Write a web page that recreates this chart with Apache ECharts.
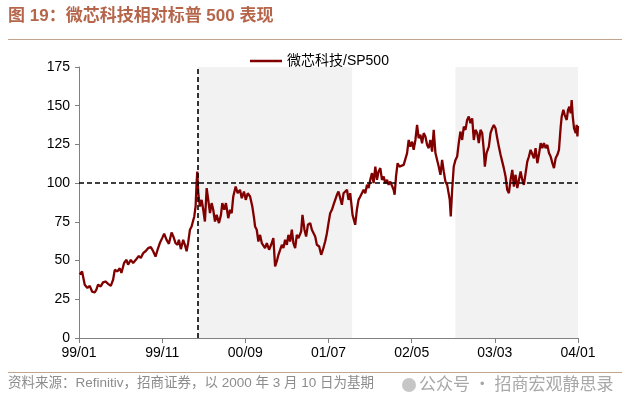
<!DOCTYPE html>
<html>
<head>
<meta charset="utf-8">
<script src="https://cdn.jsdelivr.net/npm/echarts@6/dist/echarts.min.js"></script>
<style>
html,body{margin:0;padding:0;background:#fff;}
#c{width:630px;height:411px;}
</style>
</head>
<body>
<div id="c"></div>
<script>
// months since 1999/01
const t = [
0.08,0.37,0.69,1.01,1.29,1.57,1.89,2.09,2.29,2.61,2.89,3.18,3.5,3.82,4.1,4.3,4.62,4.9,5.1,5.42,5.71,5.9,6.23,6.51,6.91,7.19,7.43,7.71,8,8.31,8.64,8.92,9.2,9.45,9.72,10,10.24,10.53,10.81,11.13,11.37,11.61,11.86,12.01,12.25,12.53,12.73,12.94,13.13,13.34,13.54,13.73,13.86,14.02,14.14,14.22,
14.34,14.54,14.75,14.94,15.14,15.35,15.54,15.75,15.95,16.14,16.35,16.55,16.83,17.07,17.23,17.47,17.67,17.95,18.16,18.36,18.55,18.84,19.08,19.36,19.57,19.84,20.05,20.29,20.57,20.84,21.05,21.17,21.37,21.57,21.77,21.98,22.17,22.37,22.58,22.86,23.1,23.37,23.58,23.78,23.98,24.18,24.39,24.58,24.78,24.99,25.18,25.39,25.59,25.78,25.99,26.19,26.39,26.71,26.87,27.11,27.31,27.52,27.8,28,28.19,28.4,28.6,28.88,29.12,29.33,29.6,29.81,30,30.2,30.41,30.6,30.81,31.01,31.2,31.41,31.61,31.81,32.01,32.22,
32.41,32.61,32.89,33.21,33.41,33.61,33.82,34.02,34.22,34.42,34.63,34.82,35.02,35.23,35.42,35.63,35.83,36.02,36.23,36.43,36.63,36.83,37.04,37.23,37.43,37.64,37.83,37.95,38.12,38.31,38.52,38.76,39.04,39.24,39.45,39.64,39.84,40.05,40.24,40.45,40.65,40.84,41.05,41.25,41.45,41.65,41.86,42.05,42.25,42.46,42.65,42.86,43.06,43.25,43.46,43.66,43.86,44.06,44.27,44.46,44.58,44.7,44.87,45.06,45.27,45.47,45.66,45.86,
46.07,46.27,46.47,46.67,46.87,47.07,47.28,47.47,47.67,47.88,48.07,48.28,48.48,48.67,48.8,49,49.28,49.48,49.69,49.88,50.08,50.29,50.48,50.69,50.89,51.08,51.29,51.49,51.69,51.89,52.1,52.29,52.49,52.7,52.89,53.1,53.3,53.49,53.7,53.9,54.1,54.3,54.51,54.7,54.9,55.11,55.3,55.51,55.71,55.9,56.11,56.31,56.51,56.71,56.92,57.11,57.31,57.52,57.71,57.92,58.04,58.24,58.4,58.64,58.8,58.96,59.12,59.24,59.37,59.52,59.73,59.84,59.93,60
];
// 微芯科技 / SP500 relative, base 2000-03-10 = 100
const ratio = [
41,43,34.4,32.3,33.7,30,29.4,31.2,34.4,33.3,35.9,36.5,35,33.7,37.6,44,43,45,42,48.4,50.5,47.3,50.5,48.4,51,53,51.6,54.8,56,58,58.7,56,52.6,57,61.3,64.5,67.3,63.4,60.8,68.1,65.2,61.3,60.2,63.4,57.4,63.4,60.2,56,61.7,69.9,72,71,78.5,85,100,107.5,
93.5,84.9,89.2,82.8,75.2,96.8,89.2,80.6,87.1,82.8,75.2,79.5,74.2,79.5,87.1,82.8,87.1,77.4,82.8,80.6,91.4,97.8,93.5,95.7,90.3,94.6,89.2,93.5,91.4,84.9,77.4,72,69.9,62.3,66.6,61.3,62.3,58.1,61.3,57,60.2,64.5,46.2,49.4,53.7,52.6,60.2,58.1,63.4,60.2,66.6,62.3,69.9,61.3,58.1,66.6,64.5,68.8,79.5,69.9,65.5,73.1,74.2,69.9,71,65.5,60.2,59.1,53.7,57,62.3,67.7,74.2,80.6,82.8,86,87.1,92.5,94.6,90.3,86,93.5,94.6,95.7,
89.2,93.5,79.5,73.1,82.8,89.2,91.4,90.3,95.7,93.5,98.9,96.8,102.1,106.5,100,110.7,102.1,107.5,109.7,102.1,104.3,100,102.1,98.9,101,102.1,95.7,92.5,104.3,112.9,110.7,111.8,111.8,112.9,119.4,127.9,123.6,126.8,121.5,127.9,137.6,129,131.2,125.8,132.3,130.1,124.7,122.6,127.9,120.4,134.4,119.4,115,110.7,105.4,115,107.5,101,98.9,97.8,89.2,78.5,95.7,110.7,115,117.2,125.8,133.3,
127.9,136.5,134.4,140.8,143,138.7,141.9,127.9,134.4,132.3,125.8,134.4,132.3,121.5,110.7,119.4,123.6,132.3,135.5,137.6,135.5,129,123.6,118.3,113.9,109.7,104.3,95.7,93.5,102.1,108.6,97.8,105.4,96.8,95.7,107.5,102.1,98.9,106.5,113.9,117.2,121.5,120.4,116.1,122.6,112.9,118.3,125.8,122.6,125.8,122.6,124.7,119.4,117.2,112.9,109.7,116.1,118.3,121.5,136.5,143,147.3,144.1,140.8,147.3,149.4,145.2,153.7,143,135.5,132.3,137.6,130.1,137
];
const xTickLabels = ['99/01','99/11','00/09','01/07','02/05','03/03','04/01'];
const baseMonth = 14.3;             // 2000-03-10
const shadeRanges = [[14.3, 32.84], [45.26, 60]];
const seriesName = '微芯科技/SP500';

const chart = echarts.init(document.getElementById('c'));
const fontLatin = 'Arial, "Liberation Sans", "Noto Sans CJK SC", sans-serif';
chart.setOption({
  animation: false,
  grid: {left: 79, right: 52, top: 67, bottom: 73, containLabel: false},
  legend: {
    data: [{name: seriesName, icon: 'rect'}],
    left: 245, top: 49,
    itemWidth: 32, itemHeight: 2.5, itemGap: 10,
    textStyle: {fontSize: 14, color: '#000', fontFamily: fontLatin}
  },
  xAxis: {
    type: 'value', min: 0, max: 60, interval: 10,
    axisLine: {show: true, lineStyle: {color: '#808080', width: 1}},
    axisTick: {show: true, inside: false, length: 5, lineStyle: {color: '#808080'}},
    axisLabel: {
      margin: 8, fontSize: 14, color: '#000', fontFamily: fontLatin,
      formatter: v => xTickLabels[Math.round(v / 10)] || ''
    },
    splitLine: {show: false}
  },
  yAxis: {
    type: 'value', min: 0, max: 175, interval: 25,
    axisLine: {show: true, lineStyle: {color: '#808080', width: 1}},
    axisTick: {show: true, inside: false, length: 4, lineStyle: {color: '#808080'}},
    axisLabel: {margin: 9, fontSize: 14, color: '#000', fontFamily: fontLatin},
    splitLine: {show: false}
  },
  series: [{
    name: seriesName,
    type: 'line',
    data: t.map((m, i) => [m, ratio[i]]),
    symbol: 'none',
    lineStyle: {color: '#800000', width: 2.3},
    itemStyle: {color: '#800000'},
    z: 3,
    markArea: {
      silent: true,
      itemStyle: {color: '#f2f2f2'},
      data: shadeRanges.map(r => [{xAxis: r[0]}, {xAxis: r[1]}])
    },
    markLine: {
      silent: true,
      symbol: 'none',
      label: {show: false},
      lineStyle: {color: '#000', type: [5, 3], width: 1.6},
      data: [{yAxis: 100}, {xAxis: baseMonth}]
    }
  }],
  graphic: [
    {type: 'text', left: 8, top: 8,
     style: {text: '图 19：微芯科技相对标普 500 表现', fill: '#b5654a',
             font: 'bold 17px Arial, "Liberation Sans", "Noto Sans CJK SC"'}},
    {type: 'line', shape: {x1: 8, y1: 39.5, x2: 622, y2: 39.5},
     style: {stroke: '#c2a58c', lineWidth: 1}},
    {type: 'line', shape: {x1: 8, y1: 372.5, x2: 622, y2: 372.5},
     style: {stroke: '#c2a58c', lineWidth: 1}},
    {type: 'text', left: 8, top: 377,
     style: {text: '资料来源：Refinitiv，招商证券，以 2000 年 3 月 10 日为基期', fill: '#8c8c8c',
             font: '13.5px Arial, "Liberation Sans", "Noto Sans CJK SC"'}},
    {type: 'circle', shape: {cx: 409, cy: 385, r: 7}, style: {fill: '#b8b8b8', opacity: 0.8}},
    {type: 'text', left: 419, top: 375,
     style: {text: '公众号 · 招商宏观静思录', fill: '#a8a8a8',
             font: '17px "Noto Sans CJK SC", sans-serif'}}
  ]
});
</script>
</body>
</html>
